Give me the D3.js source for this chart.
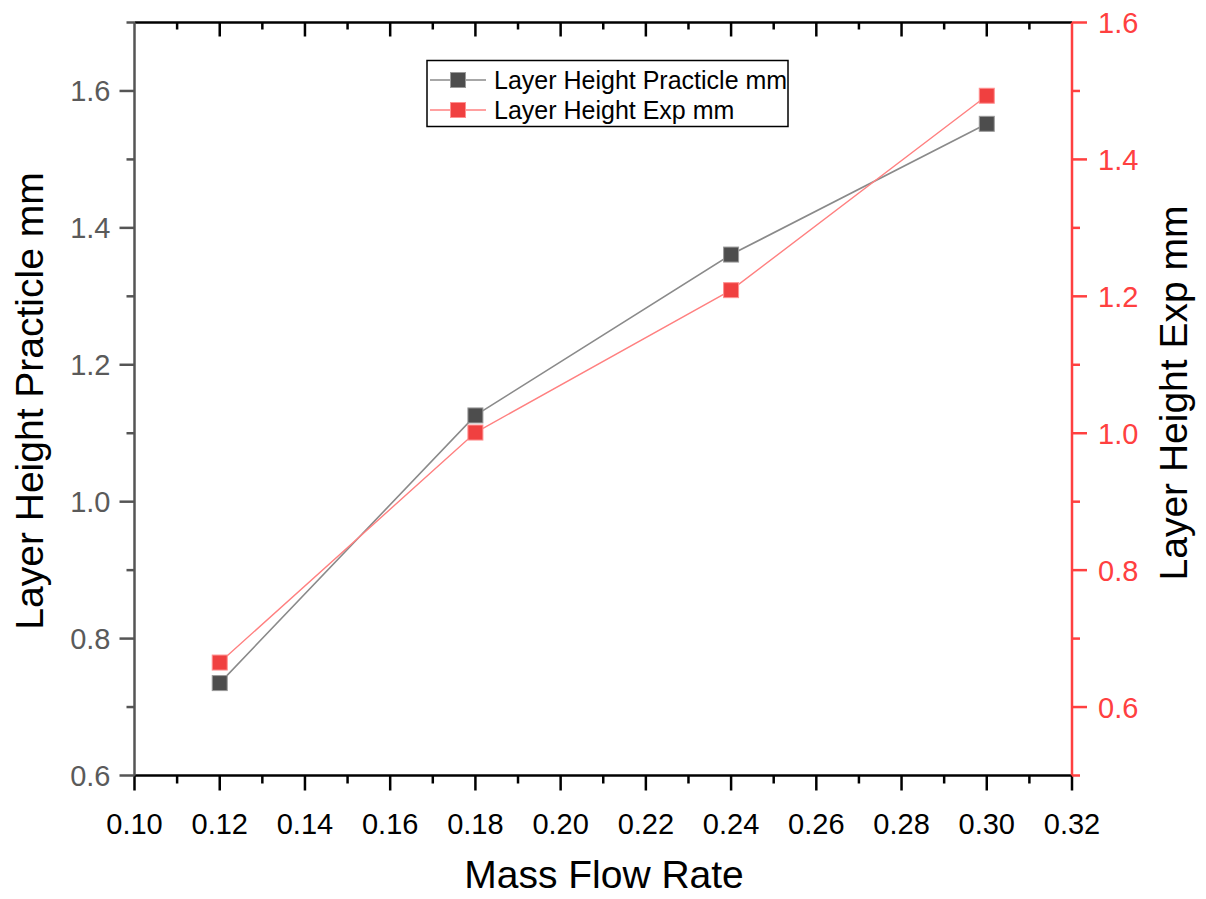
<!DOCTYPE html>
<html>
<head>
<meta charset="utf-8">
<script src="https://cdn.jsdelivr.net/npm/d3@7"></script>
<style>
html,body{margin:0;padding:0;background:#fff;}
svg{display:block;}
text{font-family:"Liberation Sans",Arial,sans-serif;}
</style>
</head>
<body>
<svg id="chart" width="1206" height="899"></svg>
<script>
const massFlow = [0.12, 0.18, 0.24, 0.30];
const practicle = [0.735, 1.126, 1.361, 1.552];
const exp = [0.665, 1.001, 1.209, 1.493];
const xTicks = [0.10,0.12,0.14,0.16,0.18,0.20,0.22,0.24,0.26,0.28,0.30,0.32];
const yLeftTicks = [0.6,0.8,1.0,1.2,1.4,1.6];
const yRightTicks = [0.6,0.8,1.0,1.2,1.4,1.6];
const seriesNames = ["Layer Height Practicle mm","Layer Height Exp mm"];

const svg = d3.select("#chart");
const L=134.5, R=1072, T=22.5, B=775.5;
const RED = "#ff4040";
const GRAY = "#4d4d4d";
const TF = 29;

const x = d3.scaleLinear().domain([0.10,0.32]).range([L,R]);
const yL = d3.scaleLinear().domain([0.6,1.7]).range([B,T]);
const yR = d3.scaleLinear().domain([0.5,1.6]).range([B,T]);

const xMinor = d3.range(0,11).map(i=>+(0.11+0.02*i).toFixed(3));
const yLMinor = [0.7,0.9,1.1,1.3,1.5,1.7];
const yRMinor = [0.5,0.7,0.9,1.1,1.3,1.5];

// Bottom axis
const gB = svg.append("g").attr("transform",`translate(0,${B})`);
gB.append("line").attr("x1",L).attr("x2",R).attr("stroke","#000").attr("stroke-width",2.5);
gB.selectAll(".maj").data(xTicks).join("line").attr("class","maj").attr("x1",d=>x(d)).attr("x2",d=>x(d)).attr("y1",0).attr("y2",15).attr("stroke","#000").attr("stroke-width",2.5);
gB.selectAll(".min").data(xMinor).join("line").attr("class","min").attr("x1",d=>x(d)).attr("x2",d=>x(d)).attr("y1",0).attr("y2",8).attr("stroke","#000").attr("stroke-width",2.5);
gB.selectAll(".lbl").data(xTicks).join("text").attr("class","lbl").attr("x",d=>x(d)).attr("y",58).attr("text-anchor","middle").attr("font-size",TF).attr("fill","#000").text(d=>d3.format(".2f")(d));

// Top axis (inward ticks)
const gT = svg.append("g").attr("transform",`translate(0,${T})`);
gT.append("line").attr("x1",L).attr("x2",R).attr("stroke","#000").attr("stroke-width",2.5);
gT.selectAll(".maj").data(xTicks.slice(1,-1)).join("line").attr("class","maj").attr("x1",d=>x(d)).attr("x2",d=>x(d)).attr("y1",0).attr("y2",14).attr("stroke","#000").attr("stroke-width",2.5);
gT.selectAll(".min").data(xMinor).join("line").attr("class","min").attr("x1",d=>x(d)).attr("x2",d=>x(d)).attr("y1",0).attr("y2",7).attr("stroke","#000").attr("stroke-width",2.5);

// Left axis
const gL = svg.append("g");
gL.append("line").attr("x1",L).attr("x2",L).attr("y1",T).attr("y2",B).attr("stroke","#555").attr("stroke-width",2.5);
gL.selectAll(".maj").data(yLeftTicks).join("line").attr("class","maj").attr("x1",L-15).attr("x2",L).attr("y1",d=>yL(d)).attr("y2",d=>yL(d)).attr("stroke","#555").attr("stroke-width",2.5);
gL.selectAll(".min").data(yLMinor).join("line").attr("class","min").attr("x1",L-8).attr("x2",L).attr("y1",d=>yL(d)).attr("y2",d=>yL(d)).attr("stroke","#555").attr("stroke-width",2.5);
gL.selectAll(".lbl").data(yLeftTicks).join("text").attr("class","lbl").attr("x",L-24).attr("y",d=>yL(d)+10.5).attr("text-anchor","end").attr("font-size",TF).attr("fill","#5a5a5a").text(d=>d3.format(".1f")(d));

// Right axis
const gR = svg.append("g");
gR.append("line").attr("x1",R).attr("x2",R).attr("y1",T).attr("y2",B).attr("stroke",RED).attr("stroke-width",2.5);
gR.selectAll(".maj").data(yRightTicks).join("line").attr("class","maj").attr("x1",R).attr("x2",R+15).attr("y1",d=>yR(d)).attr("y2",d=>yR(d)).attr("stroke",RED).attr("stroke-width",2.5);
gR.selectAll(".min").data(yRMinor).join("line").attr("class","min").attr("x1",R).attr("x2",R+8).attr("y1",d=>yR(d)).attr("y2",d=>yR(d)).attr("stroke",RED).attr("stroke-width",2.5);
gR.selectAll(".lbl").data(yRightTicks).join("text").attr("class","lbl").attr("x",R+26).attr("y",d=>yR(d)+10.5).attr("text-anchor","start").attr("font-size",TF).attr("fill",RED).text(d=>d3.format(".1f")(d));

// Axis titles
svg.append("text").attr("x",604).attr("y",888).attr("text-anchor","middle").attr("font-size",39).attr("fill","#000").text("Mass Flow Rate");
svg.append("text").attr("transform","translate(43,401) rotate(-90)").attr("text-anchor","middle").attr("font-size",39).attr("fill","#000").text("Layer Height Practicle mm");
svg.append("text").attr("transform","translate(1187,393) rotate(-90)").attr("text-anchor","middle").attr("font-size",39).attr("fill","#000").text("Layer Height Exp mm");

// Lines
const lineP = d3.line().x((d,i)=>x(massFlow[i])).y(d=>yL(d));
const lineE = d3.line().x((d,i)=>x(massFlow[i])).y(d=>yR(d));
svg.append("path").attr("d",lineP(practicle)).attr("fill","none").attr("stroke","#8a8a8a").attr("stroke-width",1.6);
svg.append("path").attr("d",lineE(exp)).attr("fill","none").attr("stroke","#ff8080").attr("stroke-width",1.4);

const S = 15;
svg.selectAll(".ptP").data(practicle).join("rect").attr("class","ptP")
  .attr("x",(d,i)=>x(massFlow[i])-S/2).attr("y",d=>yL(d)-S/2).attr("width",S).attr("height",S)
  .attr("fill",GRAY).attr("stroke","#9a9a9a").attr("stroke-width",1);
svg.selectAll(".ptE").data(exp).join("rect").attr("class","ptE")
  .attr("x",(d,i)=>x(massFlow[i])-S/2).attr("y",d=>yR(d)-S/2).attr("width",S).attr("height",S)
  .attr("fill","#f04040").attr("stroke","#ff9090").attr("stroke-width",1);

// Legend
const lg = svg.append("g");
lg.append("rect").attr("x",427).attr("y",60.5).attr("width",361).attr("height",66).attr("fill","#fff").attr("stroke","#000").attr("stroke-width",1.5);
const rows = [{y:80, line:"#8a8a8a", fill:GRAY, stroke:"#9a9a9a"},{y:110, line:"#ff8080", fill:"#f04040", stroke:"#ff9090"}];
rows.forEach((r,i)=>{
  lg.append("line").attr("x1",430).attr("x2",486).attr("y1",r.y).attr("y2",r.y).attr("stroke",r.line).attr("stroke-width",1.6);
  lg.append("rect").attr("x",458-S/2).attr("y",r.y-S/2).attr("width",S).attr("height",S).attr("fill",r.fill).attr("stroke",r.stroke).attr("stroke-width",1);
  lg.append("text").attr("x",494).attr("y",r.y+9).attr("font-size",25).attr("fill","#000").text(seriesNames[i]);
});
</script>
</body>
</html>
